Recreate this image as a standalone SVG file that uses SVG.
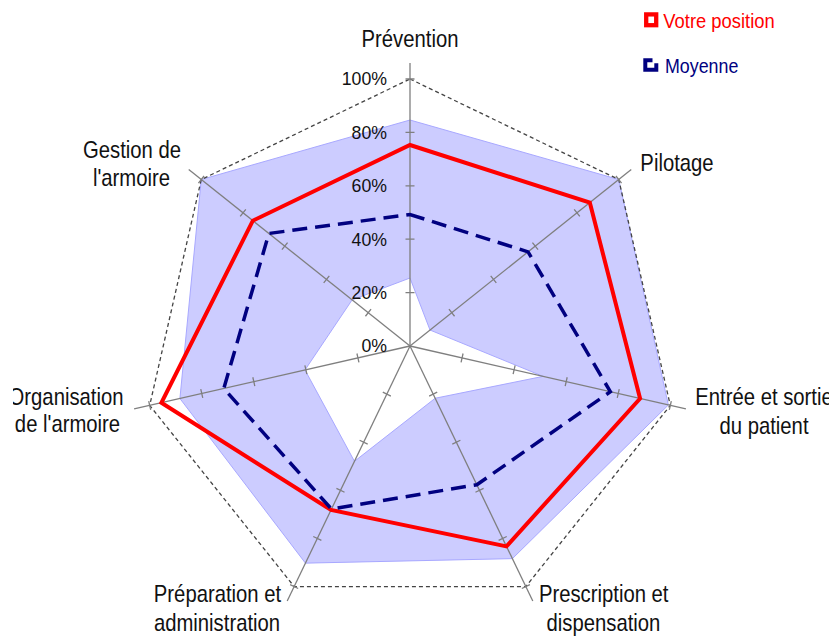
<svg xmlns="http://www.w3.org/2000/svg" xmlns:xlink="http://www.w3.org/1999/xlink" width="836" height="637" viewBox="0 0 836 637">
<style>
.cat{font-family:"Liberation Sans",Arial,sans-serif;font-size:24px;fill:#111}
.tick{font-family:"Liberation Sans",Arial,sans-serif;font-size:17.7px;fill:#111;text-anchor:end}
.leg{font-family:"Liberation Sans",Arial,sans-serif;font-size:21px}
.ax{stroke:#7f7f7f;stroke-width:1.3;fill:none}
</style>
<defs>
<clipPath id="clip"><rect x="13" y="0" width="816" height="637"/></clipPath>
<g id="axis">
<line x1="0" y1="0" x2="0" y2="-283"/>
<path d="M-4.5 -53.4H4.5M-4.5 -106.8H4.5M-4.5 -160.2H4.5M-4.5 -213.6H4.5M-4.5 -267H4.5"/>
</g>
</defs>
<rect width="836" height="637" fill="#fff"/>
<g id="band">
<path fill="#ccccff" fill-rule="evenodd" stroke="#a8a8ff" stroke-width="1" d="M410 120L618.75 179.53L668.36 404.97L512.4 558.63L305.43 563.13L179.92 398.51L201.25 179.53Z M410 278L430.01 330.04L543.08 376.37L435.17 398.26L354.46 461.32L305 369.97L352.14 299.86Z"/>
</g>
<g id="web">
<path fill="none" stroke="#444" stroke-width="1.3" stroke-dasharray="4 3" d="M410 79L618.75 179.53L670.31 405.41L525.85 586.56L294.15 586.56L149.69 405.41L201.25 179.53Z"/>
</g>
<g id="axes" class="ax">
<use xlink:href="#axis" transform="translate(410 346)"/>
<use xlink:href="#axis" transform="translate(410 346) rotate(51.4286)"/>
<use xlink:href="#axis" transform="translate(410 346) rotate(102.8571)"/>
<use xlink:href="#axis" transform="translate(410 346) rotate(154.2857)"/>
<use xlink:href="#axis" transform="translate(410 346) rotate(205.7143)"/>
<use xlink:href="#axis" transform="translate(410 346) rotate(257.1429)"/>
<use xlink:href="#axis" transform="translate(410 346) rotate(308.5714)"/>
</g>
<g id="tick-labels">
<text class="tick" x="387" y="352.3">0%</text>
<text class="tick" x="387" y="298.9">20%</text>
<text class="tick" x="387" y="245.5">40%</text>
<text class="tick" x="387" y="192.1">60%</text>
<text class="tick" x="387" y="138.7">80%</text>
<text class="tick" x="387" y="85.3">100%</text>
</g>
<g id="series">
<path id="votre-position" fill="none" stroke="#ff0000" stroke-width="4" stroke-linejoin="miter" d="M410 145L589.82 202.6L640.08 398.51L506.5 546.38L331.03 509.98L161.39 402.74L252.85 220.68Z"/>
<path id="moyenne" fill="none" stroke="#000080" stroke-width="3.5" stroke-dasharray="15 8" d="M410 214.5L528.06 251.85L610.35 391.73L476.82 484.75L331.47 509.08L223.79 388.5L268.88 233.46Z"/>
</g>
<g id="labels" class="cat" clip-path="url(#clip)">
<text transform="translate(410 46.5) scale(0.845 1)" text-anchor="middle">Prévention</text>
<text transform="translate(677 171) scale(0.845 1)" text-anchor="middle">Pilotage</text>
<text transform="translate(764 405) scale(0.845 1)" text-anchor="middle">Entrée et sortie</text>
<text transform="translate(764 433.5) scale(0.845 1)" text-anchor="middle">du patient</text>
<text transform="translate(603.7 602) scale(0.845 1)" text-anchor="middle">Prescription et</text>
<text transform="translate(603.5 631.2) scale(0.845 1)" text-anchor="middle">dispensation</text>
<text transform="translate(217.5 602) scale(0.845 1)" text-anchor="middle">Préparation et</text>
<text transform="translate(217 631.2) scale(0.845 1)" text-anchor="middle">administration</text>
<text transform="translate(123.5 405) scale(0.845 1)" text-anchor="end">Organisation</text>
<text transform="translate(67.5 432) scale(0.845 1)" text-anchor="middle">de l'armoire</text>
<text transform="translate(132 157.5) scale(0.845 1)" text-anchor="middle">Gestion de</text>
<text transform="translate(131.5 186) scale(0.845 1)" text-anchor="middle">l'armoire</text>
</g>
<g id="legend">
<rect x="646.2" y="14.4" width="10" height="10.8" fill="#fff" stroke="#ff0000" stroke-width="4.3"/>
<text class="leg" fill="#ff0000" transform="translate(663.3 28) scale(0.876 1)">Votre position</text>
<path d="M652.5 60.3H645.3V69.7H656.3V63.3" fill="none" stroke="#000080" stroke-width="4"/>
<text class="leg" fill="#000080" transform="translate(665 72.5) scale(0.85 1)">Moyenne</text>
</g>
</svg>
